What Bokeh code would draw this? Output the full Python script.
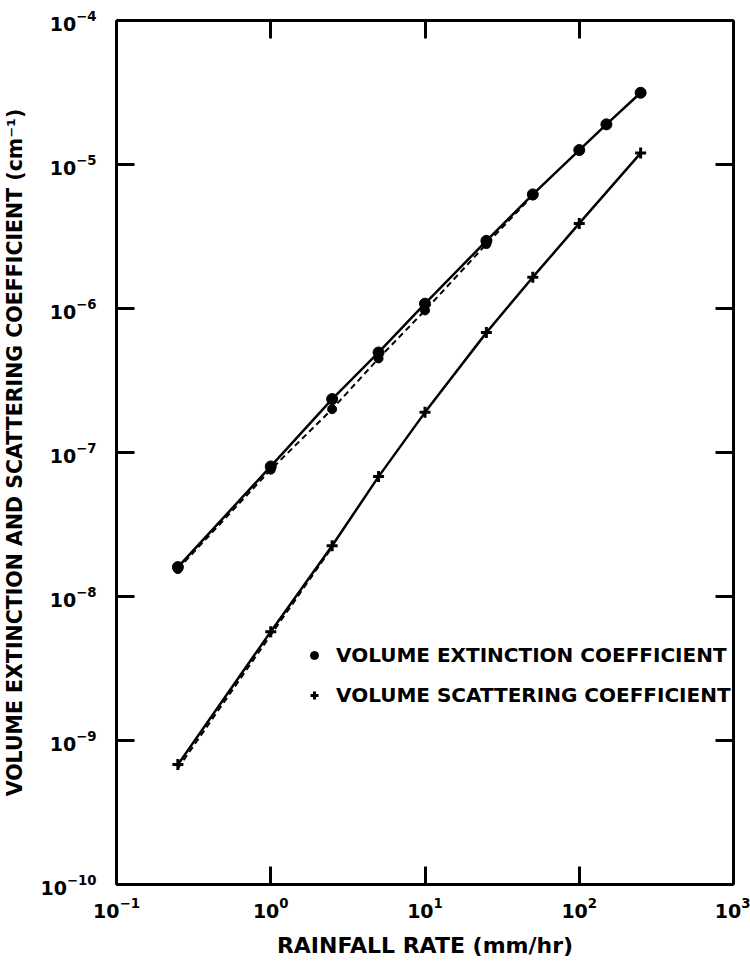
from bokeh.plotting import figure
from bokeh.models import LogAxis, FixedTicker, Legend, LegendItem
from bokeh.embed import file_html
from bokeh.resources import INLINE

# ---- data ----
x_ticks = [0.1, 1, 10, 100, 1000]
y_ticks = [1e-10, 1e-9, 1e-8, 1e-7, 1e-6, 1e-5, 1e-4]

rain_ext = [0.25, 1, 2.5, 5, 10, 25, 50, 100, 150, 250]
ext_solid = [1.6e-8, 8.0e-8, 2.35e-7, 4.95e-7, 1.08e-6, 2.95e-6, 6.2e-6, 1.26e-5, 1.9e-5, 3.15e-5]

rain_ext_dash = [0.25, 1, 2.5, 5, 10, 25, 50]
ext_dash = [1.55e-8, 7.6e-8, 2.0e-7, 4.5e-7, 9.7e-7, 2.8e-6, 6.1e-6]

rain_sca = [0.25, 1, 2.5, 5, 10, 25, 50, 100, 250]
sca_solid = [6.8e-10, 5.7e-9, 2.25e-8, 6.8e-8, 1.9e-7, 6.8e-7, 1.65e-6, 3.9e-6, 1.2e-5]

rain_sca_dash = [0.25, 1, 2.5]
sca_dash = [6.4e-10, 5.4e-9, 2.2e-8]

FONT = "DejaVu Sans"

p = figure(width=750, height=960, x_axis_type="log", y_axis_type="log",
           x_range=(0.1, 1000), y_range=(1e-10, 1e-4),
           output_backend="svg", toolbar_location=None,
           min_border_left=115, min_border_top=20, min_border_right=17,
           min_border_bottom=76)
p.xgrid.visible = False
p.ygrid.visible = False
p.outline_line_color = None
p.background_fill_color = "white"
p.border_fill_color = "white"

def style_axis(ax, ticks, show_labels=True):
    ax.ticker = FixedTicker(ticks=ticks)
    ax.axis_line_width = 3
    ax.axis_line_color = "black"
    ax.major_tick_in = 18
    ax.major_tick_out = 0
    ax.major_tick_line_width = 3
    ax.minor_tick_line_color = None
    if show_labels:
        ax.major_label_text_font = FONT
        ax.major_label_text_font_style = "bold"
        ax.major_label_text_font_size = "19px"
        ax.major_label_text_color = "black"
    else:
        ax.major_label_text_font_size = "1px"
        ax.major_label_text_alpha = 0
        ax.major_label_standoff = 0

style_axis(p.xaxis[0], x_ticks)
style_axis(p.yaxis[0], y_ticks)
p.xaxis[0].major_label_standoff = 12
p.yaxis[0].major_label_standoff = 20

p.xaxis[0].axis_label = "RAINFALL RATE (mm/hr)"
p.yaxis[0].axis_label = "VOLUME EXTINCTION AND SCATTERING COEFFICIENT (cm\u207b\u00b9)"
for ax in (p.xaxis[0], p.yaxis[0]):
    ax.axis_label_text_font = FONT
    ax.axis_label_text_font_style = "bold"
    ax.axis_label_text_color = "black"
p.xaxis[0].axis_label_text_font_size = "22px"
p.yaxis[0].axis_label_text_font_size = "20.5px"
p.xaxis[0].axis_label_standoff = 12
p.yaxis[0].axis_label_standoff = 10

top = LogAxis()
style_axis(top, x_ticks, show_labels=False)
p.add_layout(top, "above")
right = LogAxis()
style_axis(right, y_ticks, show_labels=False)
p.add_layout(right, "right")

# ---- series ----
p.line(rain_ext, ext_solid, line_color="black", line_width=2.5)
p.line(rain_ext_dash, ext_dash, line_color="black", line_width=2, line_dash="6 4")
ext_pts = p.scatter(rain_ext, ext_solid, marker="circle", size=11,
                    fill_color="black", line_color="black")
p.scatter(rain_ext_dash, ext_dash, marker="circle", size=9,
          fill_color="black", line_color="black")

p.line(rain_sca, sca_solid, line_color="black", line_width=2.5)
p.line(rain_sca_dash, sca_dash, line_color="black", line_width=2, line_dash="6 4")
sca_pts = p.scatter(rain_sca, sca_solid, marker="cross", size=11,
                    line_color="black", line_width=3)

legend = Legend(items=[
    LegendItem(label="VOLUME EXTINCTION COEFFICIENT", renderers=[ext_pts]),
    LegendItem(label="VOLUME SCATTERING COEFFICIENT", renderers=[sca_pts]),
], location=(188, 177), orientation="vertical")
legend.background_fill_alpha = 0
legend.border_line_color = None
legend.label_text_font = FONT
legend.label_text_font_style = "bold"
legend.label_text_font_size = "20px"
legend.label_text_color = "black"
legend.glyph_width = 20
legend.glyph_height = 20
legend.label_standoff = 12
legend.spacing = 16
legend.padding = 0
legend.margin = 0
p.add_layout(legend)

open("out.html", "w").write(file_html(p, INLINE))
